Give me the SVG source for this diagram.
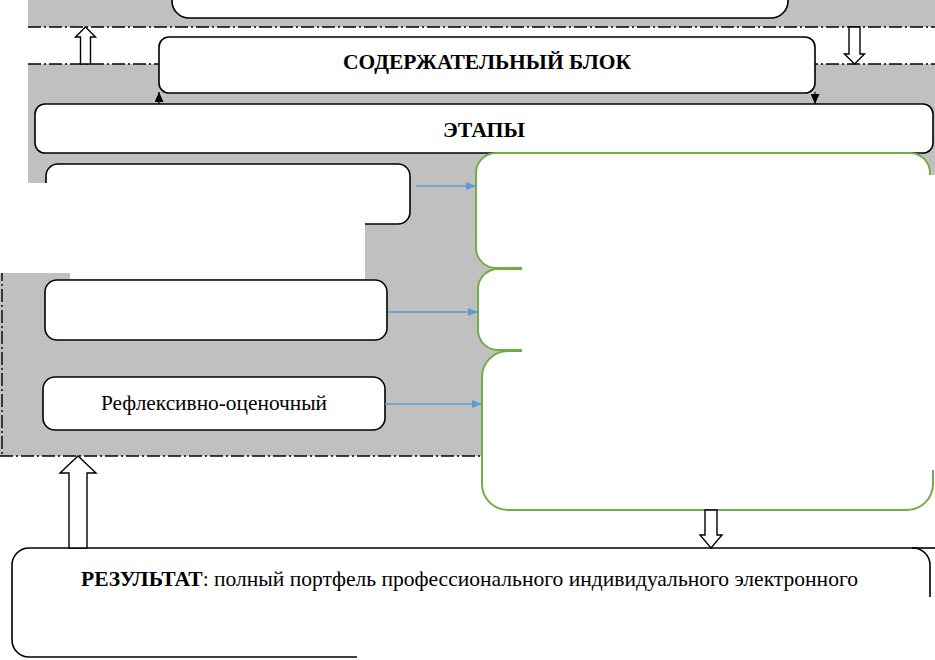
<svg xmlns="http://www.w3.org/2000/svg" width="935" height="660" viewBox="0 0 935 660">
<defs>
<style>
.bg{fill:#c0c0c0;stroke:none}
.dd{fill:none;stroke:#000;stroke-width:1.4;stroke-dasharray:13 3 2 3}
.box{fill:#fff;stroke:#000;stroke-width:1.6}
.gbox{fill:#fff;stroke:#70ad47;stroke-width:2}
.hollow{fill:#fff;stroke:#000;stroke-width:1.4}
.blue{fill:none;stroke:#5b9bd5;stroke-width:1.5;marker-end:url(#bh)}
.blk{fill:none;stroke:#000;stroke-width:1.2;marker-end:url(#kh)}
.t{font-family:'Liberation Serif','Times New Roman',serif;font-size:21px;fill:#000}
.b{font-weight:bold}
.occ{fill:#fff;stroke:none}
</style>
<marker id="bh" markerWidth="10" markerHeight="8" refX="10" refY="4" orient="auto" markerUnits="userSpaceOnUse">
<path d="M0,0 L10,4 L0,8 Z" fill="#5b9bd5"/>
</marker>
<marker id="kh" markerWidth="10" markerHeight="9" refX="10" refY="4.5" orient="auto" markerUnits="userSpaceOnUse">
<path d="M0,0 L10,4.5 L0,9 Z" fill="#000"/>
</marker>
</defs>

<g id="background">
<rect class="bg" x="28" y="0" width="907" height="27"/>
<rect class="bg" x="28" y="64" width="907" height="130"/>
<rect class="bg" x="0" y="184" width="935" height="272"/>
<line class="dd" x1="28" y1="27" x2="935" y2="27"/>
<line class="dd" x1="28" y1="64" x2="935" y2="64"/>
<line class="dd" x1="2" y1="184" x2="2" y2="456"/>
<line class="dd" x1="0" y1="456" x2="935" y2="456"/>
</g>

<g id="top-block">
<rect class="box" x="172" y="-30" width="616" height="48" rx="17"/>
</g>

<g id="content-block">
<rect class="box" x="159" y="37" width="656" height="56" rx="10"/>
<text class="t b" x="487" y="69" text-anchor="middle" textLength="288" lengthAdjust="spacingAndGlyphs">СОДЕРЖАТЕЛЬНЫЙ БЛОК</text>
</g>

<g id="stages">
<rect class="box" x="35" y="104" width="898" height="49" rx="10"/>
<text class="t b" x="484" y="137" text-anchor="middle" textLength="82" lengthAdjust="spacingAndGlyphs">ЭТАПЫ</text>
</g>

<g id="stage1">
<rect class="box" x="46" y="164" width="364" height="60" rx="12"/>
</g>
<g id="stage2">
<rect class="box" x="45" y="280" width="342" height="60" rx="12"/>
</g>
<g id="stage3">
<rect class="box" x="43" y="377" width="342" height="53" rx="12"/>
<text class="t" x="214" y="410" text-anchor="middle" textLength="226" lengthAdjust="spacingAndGlyphs">Рефлексивно-оценочный</text>
</g>

<g id="green1">
<rect class="gbox" x="476" y="153" width="454" height="115" rx="20"/>
</g>
<g id="green2">
<rect class="gbox" x="478" y="269" width="452" height="81" rx="20"/>
</g>
<g id="green3">
<rect class="gbox" x="482" y="351" width="451" height="159" rx="26"/>
</g>

<g id="result">
<rect class="box" x="12" y="548" width="918" height="109" rx="17"/>
<line x1="912" y1="548" x2="935" y2="548" stroke="#000" stroke-width="1.6"/>
<text class="t" x="81" y="586" textLength="777" lengthAdjust="spacingAndGlyphs"><tspan class="b">РЕЗУЛЬТАТ</tspan>: полный портфель профессионального индивидуального электронного</text>
</g>

<g id="connectors">
<line class="blk" x1="159" y1="104" x2="159" y2="92"/>
<line class="blk" x1="815" y1="92" x2="815" y2="104"/>
<line class="blue" x1="416" y1="186" x2="476" y2="186"/>
<line class="blue" x1="388" y1="312" x2="478" y2="312"/>
<line class="blue" x1="385" y1="404" x2="482" y2="404"/>
<path class="hollow" d="M80.5,64 V37 H75.5 L85.5,27 L95.5,37 H90.5 V64 Z"/>
<path class="hollow" d="M849,27 V54 H844.5 L854.5,64 L864.5,54 H860 V27 Z"/>
<path class="hollow" d="M69,548 V473 H60 L78,456 L96,473 H87 V548 Z"/>
<path class="hollow" d="M705,510 V535 H700 L711,548 L722,535 H717 V510 Z"/>
</g>

<g id="occluders">
<rect class="occ" x="0" y="183" width="365" height="90"/>
<rect class="occ" x="70" y="272" width="295" height="7"/>
<rect class="occ" x="522" y="175" width="413" height="295"/>
<rect class="occ" x="357" y="597" width="578" height="63"/>
</g>
</svg>
